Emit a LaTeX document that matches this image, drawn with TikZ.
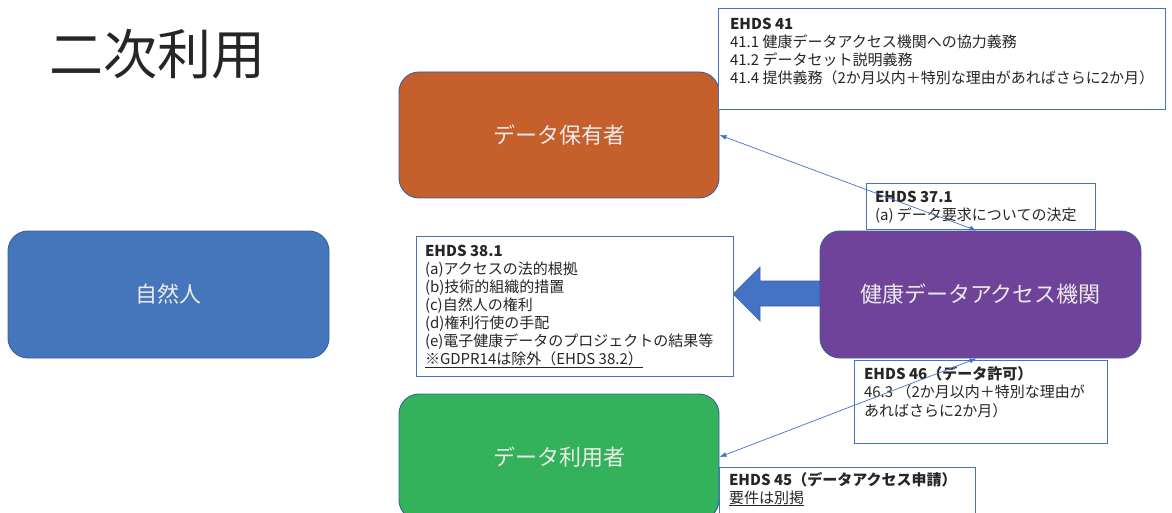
\documentclass[tikz,border=0pt]{standalone}
\usepackage{fontspec}
\setmainfont{Noto Sans CJK JP}
\usetikzlibrary{arrows.meta}
\definecolor{holderC}{HTML}{C55F2B}
\definecolor{naturalC}{HTML}{4575BA}
\definecolor{hdaC}{HTML}{6F4399}
\definecolor{userC}{HTML}{33B15B}
\definecolor{edgeC}{HTML}{3A5F9E}
\definecolor{lineC}{HTML}{4472C4}
\definecolor{txtC}{HTML}{262626}
\begin{document}
\begin{tikzpicture}[x=1pt,y=-1pt,
  bigbox/.style={draw=edgeC, line width=0.9pt, rounded corners=20pt, text=white!92!black,
    font=\fontsize{22pt}{26pt}\selectfont, inner sep=0pt},
  tbox/.style={draw=lineC, line width=0.9pt, fill=white, inner sep=0pt},
  txt/.style={anchor=north west, inner sep=0pt, outer sep=0pt, align=left, text=txtC},
  link/.style={draw=lineC, line width=0.7pt, {Latex[length=7pt,width=5pt]}-{Latex[length=7pt,width=5pt]}}
]
\useasboundingbox (0,0) rectangle (1172,513);
\clip (0,0) rectangle (1172,513);

\node[inner sep=0pt, font=\fontsize{54pt}{54pt}\selectfont, text=black!85] (title) at (157.5,54) {二次利用};

\node[bigbox, fill=holderC, minimum width=320pt, minimum height=126pt] (holder) at (559,135) {データ保有者};
\node[bigbox, fill=naturalC, minimum width=321pt, minimum height=127pt] (natural) at (168.5,294.5) {自然人};
\node[bigbox, fill=userC, minimum width=320pt, minimum height=126pt] (user) at (559,457) {データ利用者};

% block arrow
\fill[lineC, draw=edgeC, line width=0.6pt] (733,294) -- (760,267) -- (760,281) -- (830,281) -- (830,306) -- (760,306) -- (760,321) -- cycle;

\node[bigbox, fill=hdaC, minimum width=321pt, minimum height=127pt] (hda) at (980.5,294.5) {健康データアクセス機関};

% text boxes
\node[tbox, minimum width=447pt, minimum height=101pt] (b41) at (941.5,58.5) {};
\node[txt, font=\fontsize{15pt}{18pt}\selectfont] (t41) at (730,15)
  {\rule{0pt}{15pt}\textbf{EHDS 41}\\41.1 健康データアクセス機関への協力義務\\41.2 データセット説明義務\\41.4 提供義務（2か月以内＋特別な理由があればさらに2か月）};

\node[tbox, minimum width=229pt, minimum height=46pt] (b371) at (980.5,206) {};
\node[txt, font=\fontsize{15pt}{18pt}\selectfont] (t371) at (875,188)
  {\rule{0pt}{15pt}\textbf{EHDS 37.1}\\(a) データ要求についての決定};

\node[tbox, minimum width=317pt, minimum height=140pt] (b381) at (574.5,306) {};
\node[txt, font=\fontsize{15pt}{18pt}\selectfont] (t381) at (425,241)
  {\rule{0pt}{15pt}\textbf{EHDS 38.1}\\(a)アクセスの法的根拠\\(b)技術的組織的措置\\(c)自然人の権利\\(d)権利行使の手配\\(e)電子健康データのプロジェクトの結果等\\\underline{※GDPR14は除外（EHDS 38.2）}};

\node[tbox, minimum width=253pt, minimum height=83pt] (b46) at (980.5,401.5) {};
\node[txt, font=\fontsize{15pt}{18.5pt}\selectfont] (t46) at (864,364)
  {\rule{0pt}{15pt}\textbf{EHDS 46（データ許可）}\\46.3 （2か月以内＋特別な理由が\\あればさらに2か月）};

\node[tbox, minimum width=256pt, minimum height=58pt] (b45) at (847,496) {};
\node[txt, font=\fontsize{15pt}{18pt}\selectfont] (t45) at (729,470)
  {\rule{0pt}{15pt}\textbf{EHDS 45（データアクセス申請）}\\\underline{要件は別掲}};

% connectors
\draw[link] (holder.east) -- ([xshift=-4pt]hda.north);
\draw[link] ([xshift=-4pt]hda.south) -- (user.east);
\end{tikzpicture}
\end{document}
